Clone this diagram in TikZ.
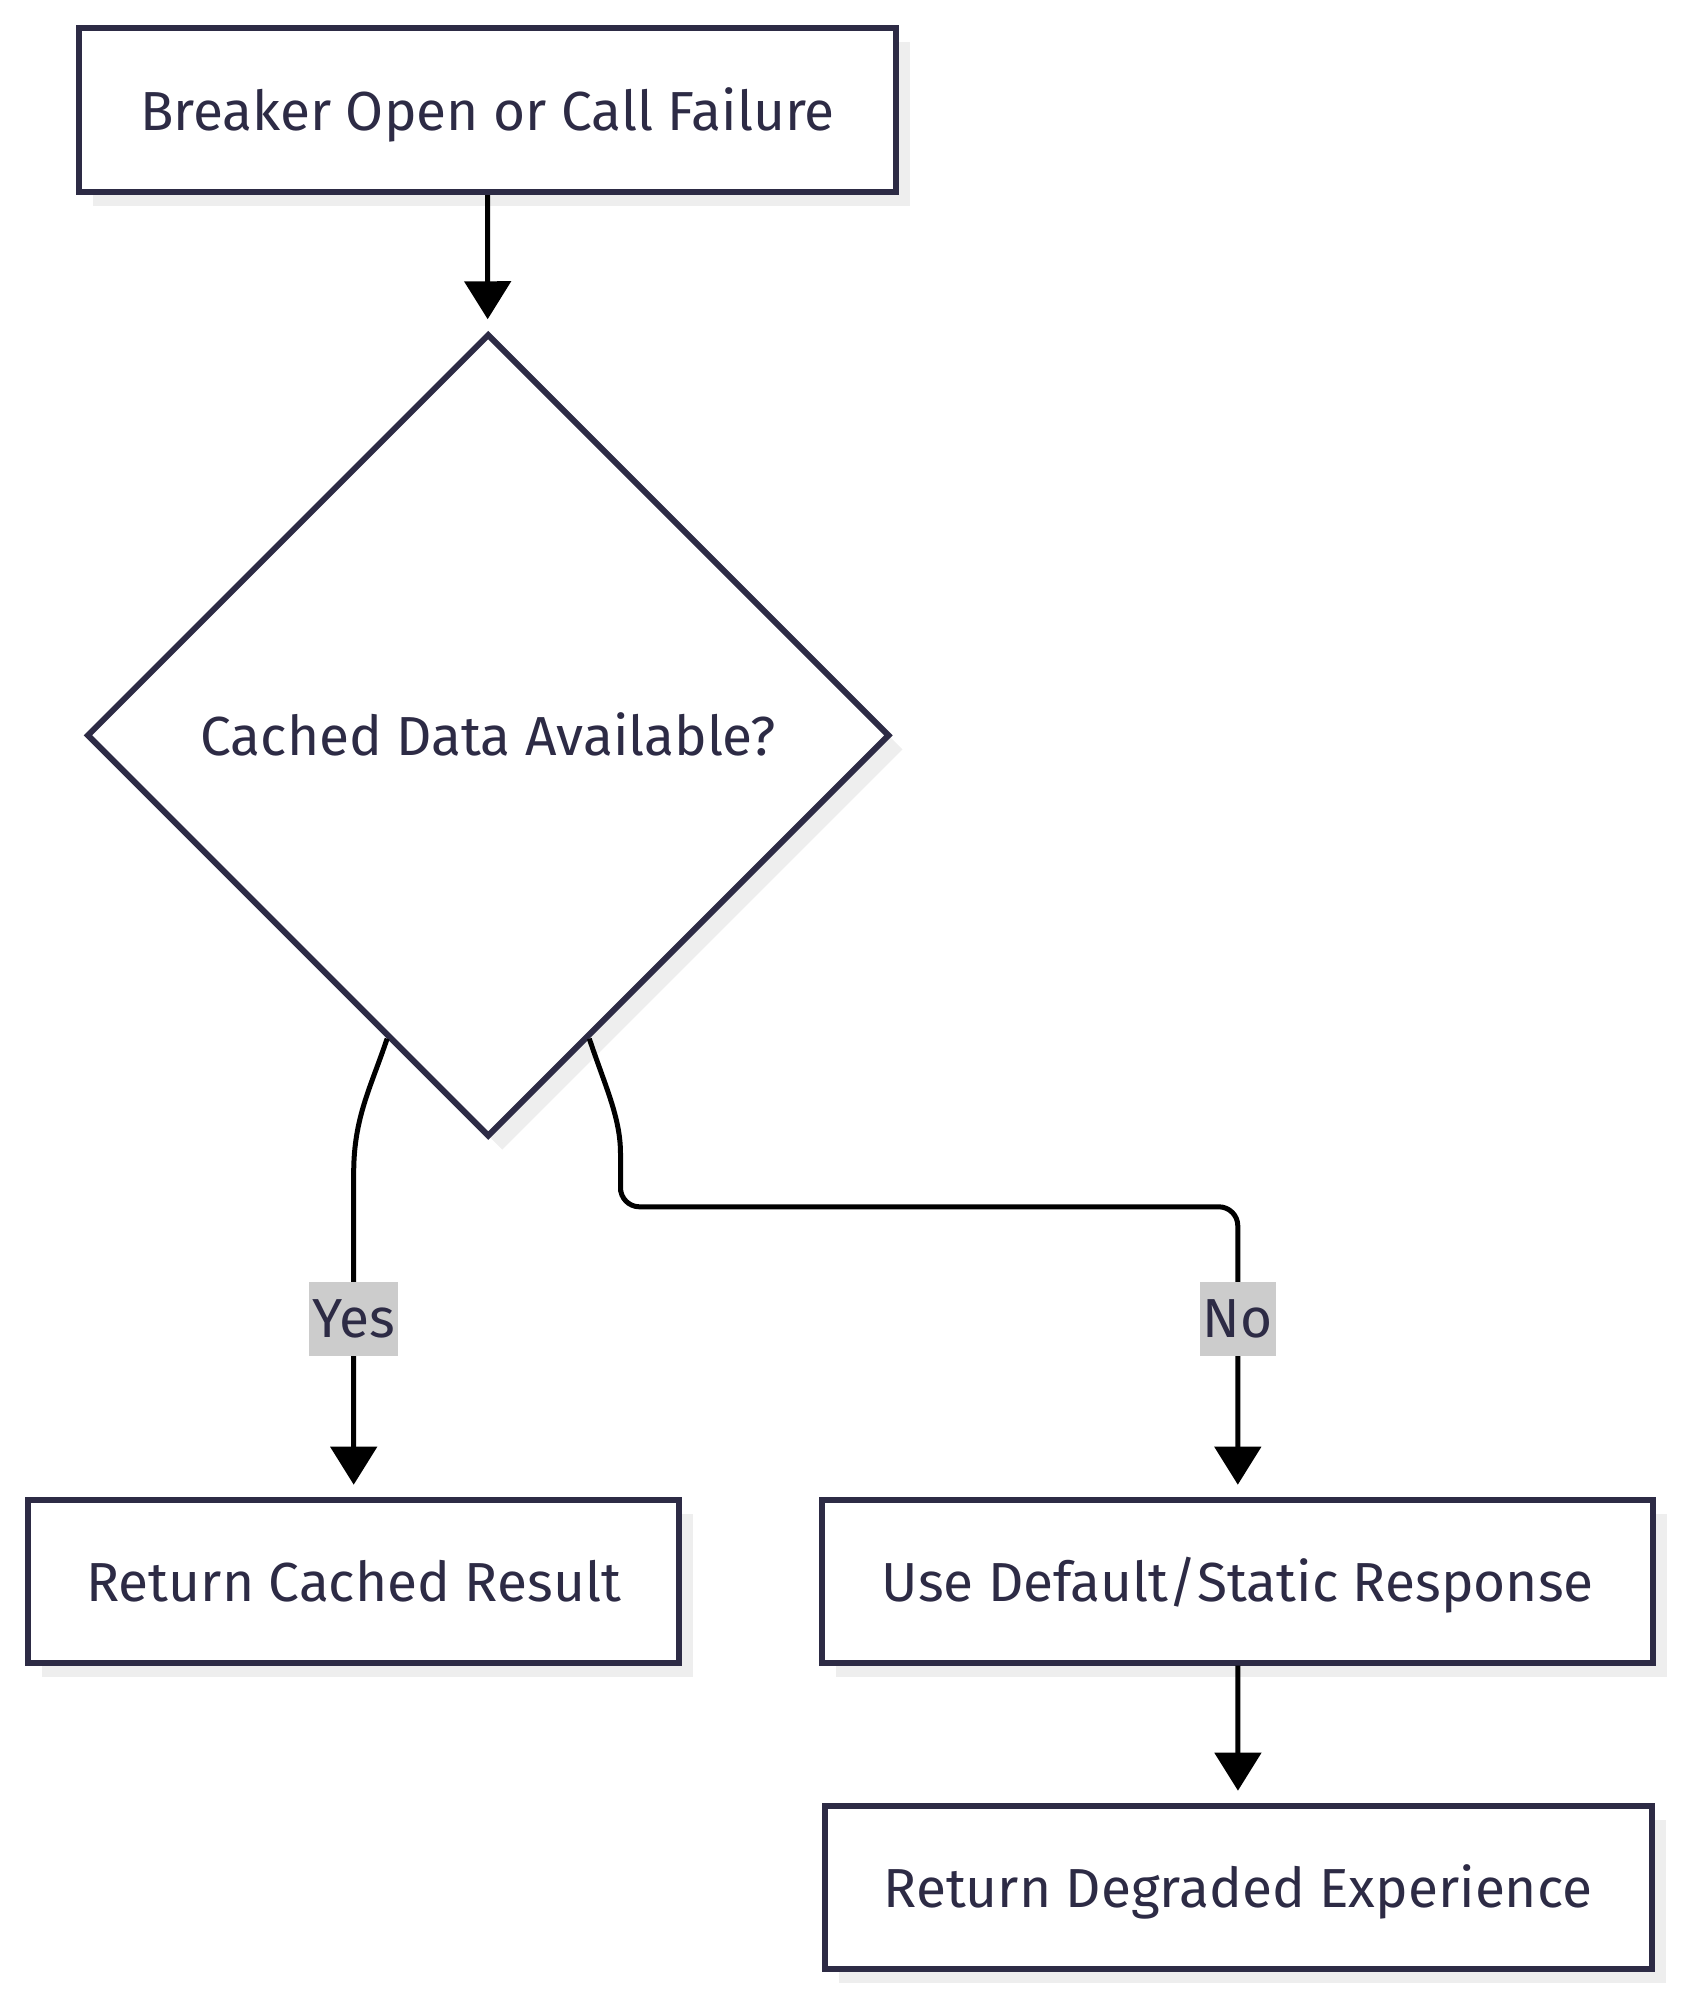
\documentclass[tikz,border=0pt]{standalone}
\usepackage{fontspec}
\setmainfont{Fira Sans}
\usetikzlibrary{shapes.geometric,arrows.meta,calc,shadows}
\definecolor{ink}{HTML}{2D2B45}
\definecolor{shade}{HTML}{EEEEEE}
\definecolor{lblbg}{HTML}{CCCCCC}
\tikzset{
  base/.style={draw=ink, line width=6pt, fill=white, text=ink, inner sep=0pt,
    font=\fontsize{55pt}{64pt}\selectfont, text height=40pt, text depth=0pt,
    drop shadow={shadow xshift=14pt, shadow yshift=-14pt, fill=shade, opacity=1}},
  procbox/.style={base, rectangle, minimum height=163pt},
  decision/.style={base, diamond, minimum width=803pt, minimum height=803pt},
  edge/.style={black, line width=5pt, -{Triangle[length=38pt,width=46pt]}, shorten >=12pt},
  lbl/.style={fill=lblbg, text=ink, inner xsep=3pt, inner ysep=0pt, minimum height=74pt,
    font=\fontsize{55pt}{64pt}\selectfont}
}
\begin{document}
\begin{tikzpicture}[x=1pt,y=-1pt]
\useasboundingbox (0,0) rectangle (1684,1999);
\node[procbox, minimum width=817pt, minimum height=164pt] (top) at (487.4,110.2) {Breaker Open or Call Failure};
\node[decision] (d) at (488.2,735.3) {Cached Data Available?};
\node[procbox, minimum width=651pt] (rc) at (353.7,1581.2) {Return Cached Result};
\node[procbox, minimum width=831pt] (ud) at (1237.8,1581.2) {Use Default/Static Response};
\node[procbox, minimum width=827pt] (rd) at (1238,1887.2) {Return Degraded Experience};

\coordinate (ys) at ($(d.south)!0.25!(d.west)$);
\coordinate (ns) at ($(d.south)!0.25!(d.east)$);
\coordinate (yv) at ($(rc.north |- 0,1172.6)$);
\coordinate (nv) at (620.5,1172.6);
\coordinate (nc) at (620.5,1206.8);
\coordinate (nh) at ($(ud.north |- 0,1206.8)$);

\draw[edge] (top) -- (d);
\draw[edge] (ys) .. controls ($(ys)+(-16,48)$) and ($(yv)+(0,-55)$) .. (yv) -- (rc);
\draw[edge, rounded corners=19pt] (ns) .. controls ($(ns)+(16,48)$) and ($(nv)+(0,-55)$) .. (nv) -- (nc) -- (nh) -- (ud);
\draw[edge] (ud) -- (rd);

\node[lbl] (ly) at (rc.north |- 0,1318.5) {Yes};
\node[lbl] (ln) at (ud.north |- 0,1318.5) {No};
\end{tikzpicture}
\end{document}
